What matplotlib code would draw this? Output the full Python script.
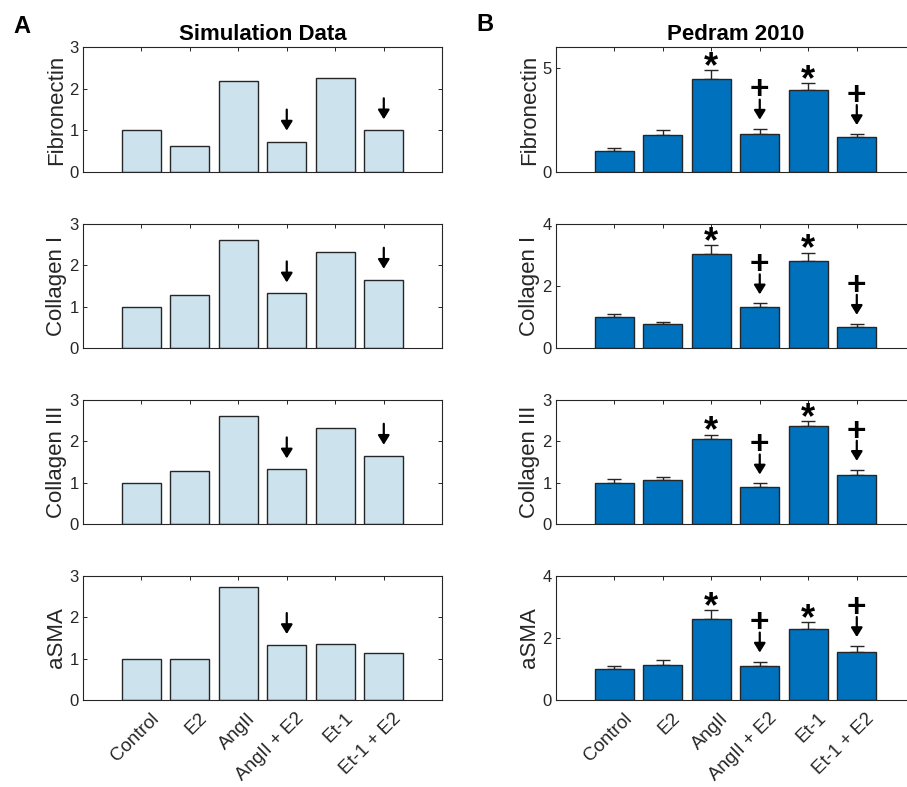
import matplotlib
matplotlib.use("Agg")
import matplotlib.pyplot as plt
import matplotlib.transforms as mtransforms
import numpy as np

plt.rcParams['font.family'] = ['Liberation Sans', 'DejaVu Sans']

# ---------------- data ----------------
categories = ["Control", "E2", "AngII", "AngII + E2", "Et-1", "Et-1 + E2"]
row_labels = ["Fibronectin", "Collagen I", "Collagen III", "aSMA"]

sim_fibronectin = [1.00, 0.62, 2.18, 0.73, 2.25, 1.00]
sim_collagen1 = [1.00, 1.28, 2.62, 1.32, 2.33, 1.65]
sim_collagen3 = [1.00, 1.28, 2.62, 1.32, 2.33, 1.65]
sim_asma = [1.00, 1.00, 2.74, 1.33, 1.35, 1.13]

exp_fibronectin = [1.00, 1.79, 4.48, 1.82, 3.93, 1.68]
exp_fibronectin_err = [0.17, 0.21, 0.41, 0.26, 0.35, 0.14]
exp_collagen1 = [1.00, 0.78, 3.03, 1.33, 2.80, 0.68]
exp_collagen1_err = [0.09, 0.06, 0.30, 0.11, 0.28, 0.10]
exp_collagen3 = [1.00, 1.06, 2.06, 0.90, 2.37, 1.19]
exp_collagen3_err = [0.09, 0.08, 0.10, 0.08, 0.12, 0.12]
exp_asma = [1.00, 1.13, 2.60, 1.10, 2.28, 1.55]
exp_asma_err = [0.11, 0.15, 0.29, 0.14, 0.24, 0.19]

sim_ylims = [3, 3, 3, 3]
sim_yticks = [[0, 1, 2, 3]] * 4
exp_ylims = [6, 4, 3, 4]
exp_yticks = [[0, 5], [0, 2, 4], [0, 1, 2, 3], [0, 2, 4]]

# indices (0-based) of bars carrying marks
sim_arrow_idx = [[3, 5], [3, 5], [3, 5], [3]]
exp_star_idx = [2, 4]
exp_plus_idx = [3, 5]

sim_data = [sim_fibronectin, sim_collagen1, sim_collagen3, sim_asma]
exp_data = [exp_fibronectin, exp_collagen1, exp_collagen3, exp_asma]
exp_err = [exp_fibronectin_err, exp_collagen1_err, exp_collagen3_err, exp_asma_err]

# ---------------- style ----------------
W, H = 907, 787
fig = plt.figure(figsize=(W / 100, H / 100), dpi=100)
fig.patch.set_facecolor("white")

TXT = "#262626"
SIM_COLOR = "#CCE3EE"
EXP_COLOR = "#0072BD"

rows_px = [(47, 172), (224, 348), (400, 524), (576, 700)]
cols_px = [(83, 442), (556, 915)]


def axpos(l, t, r, b):
    return [l / W, 1 - b / H, (r - l) / W, (b - t) / H]


x = np.arange(1, len(categories) + 1)


def style_axis(ax, ylim, yticks, ylabel, bottom):
    ax.set_xlim(-0.2, 7.2)
    ax.set_ylim(0, ylim)
    ax.set_yticks(yticks)
    ax.set_xticks(x)
    for s in ax.spines.values():
        s.set_color(TXT)
        s.set_linewidth(0.8)
    ax.tick_params(direction="in", top=True, right=True, length=3, width=0.7,
                   colors=TXT, labelsize=12, pad=3)
    ax.set_ylabel(ylabel, fontsize=16, color=TXT)
    ax.yaxis.set_label_coords(-0.045, 0.5)
    if bottom:
        ax.tick_params(axis="x", pad=7)
        ax.set_xticklabels(categories, rotation=45, ha="right", va="top",
                           rotation_mode="anchor", fontsize=13.5, color=TXT)
        off = mtransforms.ScaledTranslation(0.09, 0, fig.dpi_scale_trans)
        for lab in ax.get_xticklabels():
            lab.set_transform(lab.get_transform() + off)
    else:
        ax.set_xticklabels([])


def down_arrow(ax, xv, yv, tip_px, tail_px):
    """Downward arrow whose tip sits tip_px pixels above data point (xv, yv)."""
    tr = ax.transData + mtransforms.ScaledTranslation(0, tip_px / 100, fig.dpi_scale_trans)
    ax.annotate("", xy=(xv, yv), xycoords=tr,
                xytext=(0, (tail_px - tip_px) * 0.72), textcoords="offset points",
                arrowprops=dict(arrowstyle="-|>,head_length=0.55,head_width=0.34",
                                mutation_scale=10, lw=1.6, color="black",
                                shrinkA=0, shrinkB=0))


for r in range(4):
    t, b = rows_px[r]
    bottom = (r == 3)

    # ---- Simulation column ----
    l, rr = cols_px[0]
    ax = fig.add_axes(axpos(l, t, rr, b))
    vals = sim_data[r]
    ax.bar(x, vals, width=0.8, color=SIM_COLOR, edgecolor=TXT, linewidth=1.0, zorder=2)
    style_axis(ax, sim_ylims[r], sim_yticks[r], row_labels[r], bottom)
    for i in sim_arrow_idx[r]:
        down_arrow(ax, x[i], vals[i], 11, 32)
    if r == 0:
        ax.set_title("Simulation Data", fontsize=16, fontweight="bold", pad=5)

    # ---- Experimental column ----
    l, rr = cols_px[1]
    ax = fig.add_axes(axpos(l, t, rr, b))
    vals = exp_data[r]
    errs = exp_err[r]
    ax.bar(x, vals, width=0.8, color=EXP_COLOR, edgecolor=TXT, linewidth=1.0, zorder=2)
    ax.errorbar(x, vals, yerr=[np.zeros(len(errs)), errs], fmt="none", ecolor=TXT,
                elinewidth=1.0, capsize=5, capthick=1.0, zorder=1)
    style_axis(ax, exp_ylims[r], exp_yticks[r], row_labels[r], bottom)
    for i in exp_star_idx:
        top = vals[i] + errs[i]
        ax.annotate("*", xy=(x[i], top), xytext=(0, -5), textcoords="offset points",
                    ha="center", va="baseline", fontsize=26, fontweight="bold", color="black")
    for i in exp_plus_idx:
        top = vals[i] + errs[i]
        ax.annotate("+", xy=(x[i], top), xytext=(0, 21), textcoords="offset points",
                    ha="center", va="baseline", fontsize=24, fontweight="bold", color="black")
        down_arrow(ax, x[i], top, 9, 29)
    if r == 0:
        ax.set_title("Pedram 2010", fontsize=16, fontweight="bold", pad=5)

fig.text(13 / W, 1 - 33 / H, "A", fontsize=17, fontweight="bold", va="baseline")
fig.text(476 / W, 1 - 31 / H, "B", fontsize=17, fontweight="bold", va="baseline")

fig.savefig("out.png", dpi=100)
